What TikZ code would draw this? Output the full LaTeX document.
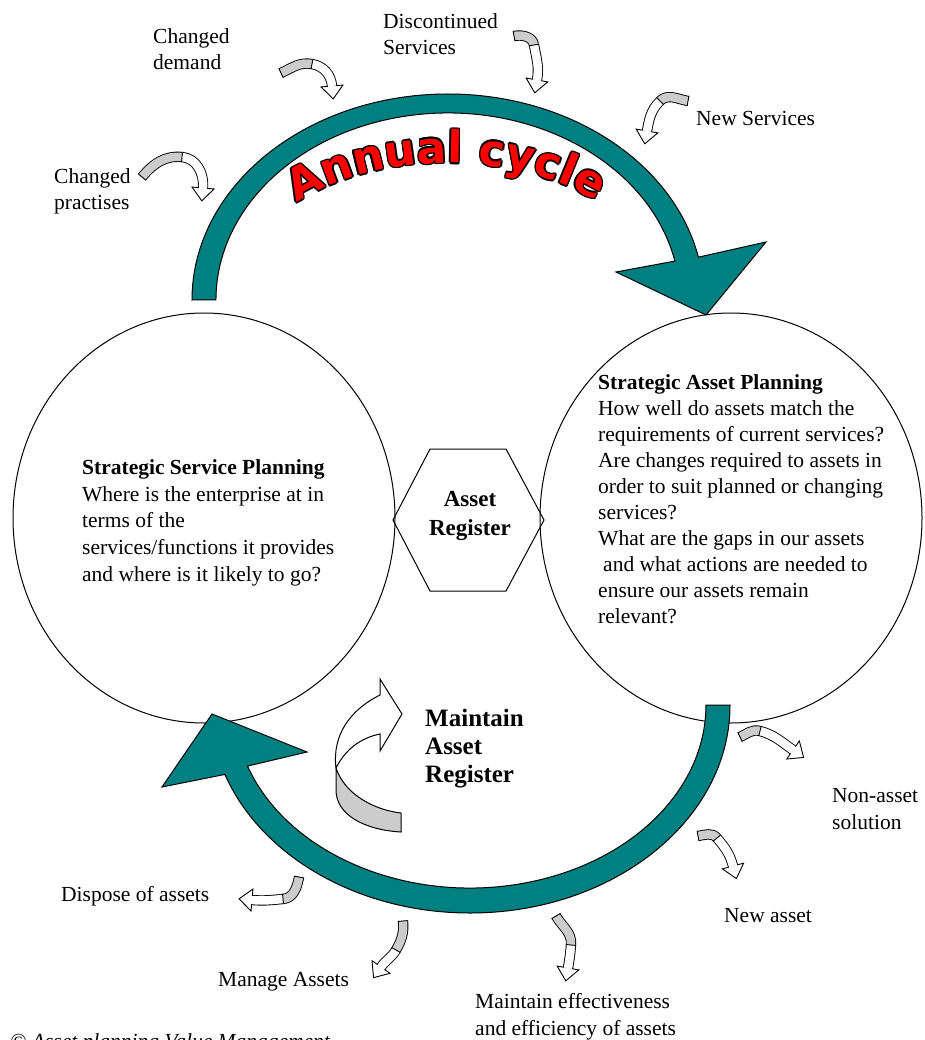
\documentclass[tikz,border=0pt]{standalone}
\usepackage{fontspec}
\setmainfont{Liberation Serif}
\newfontfamily\annfont{DejaVu Sans}
\usetikzlibrary{calc,decorations.text,shapes.geometric}
\definecolor{bandteal}{RGB}{0,128,128}
\definecolor{ribgray}{RGB}{204,204,204}
\definecolor{anred}{RGB}{255,0,0}
\tikzset{
  rib/.style={line width=0.9pt, double distance=8.5pt},
  band/.style={fill=bandteal, draw=black, line width=1pt, line join=miter},
  bubble/.style={ellipse, draw, line width=1pt, fill=white, minimum width=382pt, minimum height=410pt, inner sep=0pt},
  lbl/.style={anchor=base west, align=left, inner sep=0pt},
}
\newcommand\ribarrow[6]{%
  \pgfmathsetmacro\ribin{#4+180}%
  \pgfmathsetmacro\ribend{#6+180}%
  \draw[rib, double=ribgray] (#1) to[out=#2, in=\ribin] (#3);
  \draw[rib, double=white] (#3) to[out=#4, in=\ribend] (#5);
  \draw[line width=0.9pt] ($(#1)+(#2+90:5.2pt)$) -- ($(#1)+(#2-90:5.2pt)$);
  \draw[line width=0.9pt] ($(#3)+(#4+90:5.2pt)$) -- ($(#3)+(#4-90:5.2pt)$);
  \draw[line width=0.9pt, fill=white, line join=miter] ($(#5)+(#6+90:4.25pt)$) -- ($(#5)+(#6+90:11pt)$) -- ($(#5)+(#6:13pt)$) -- ($(#5)+(#6-90:11pt)$) -- ($(#5)+(#6-90:4.25pt)$);
}
\newcommand\annstyle{\annfont\bfseries\fontsize{44}{44}\selectfont}
\begin{document}
\begin{tikzpicture}[x=1pt,y=1pt,font=\fontsize{21.5}{26.6}\selectfont]
\useasboundingbox (0,0) rectangle (924,-1040);

% planning circles
\node[bubble] (lcirc) at (204,-518) {};
\node[bubble] (rcirc) at (731,-518) {};

% asset register hexagon
\draw[line width=1pt] (393,-520) -- (430,-449) -- (506,-449) -- (544,-520) -- (506,-591) -- (430,-591) -- cycle;
\node[font=\fontsize{23}{28.5}\selectfont\bfseries, align=center] (areg) at (470,-516) {Asset\\Register};

% circle texts (anchor = baseline of last line)
\node[lbl] (sstext) at (82,-581) {\textbf{Strategic Service Planning}\\Where is the enterprise at in\\terms of the\\services/functions it provides\\and where is it likely to go?};
\node[lbl, font=\fontsize{21.5}{26}\selectfont] (satext) at (598,-623) {\textbf{Strategic Asset Planning}\\How well do assets match the\\requirements of current services?\\Are changes required to assets in\\order to suit planned or changing\\services?\\What are the gaps in our assets\\\hspace*{5pt}and what actions are needed to\\ensure our assets remain\\relevant?};

% annual cycle band (top)
\path[band] (192,-300) arc[start angle=180, end angle=12, x radius=256pt, y radius=206pt]
  -- (766,-242) -- (706,-315) -- (616,-272)
  -- (674.9,-261.1) arc[start angle=12, end angle=180, x radius=232pt, y radius=187pt] -- cycle;

% bottom band
\path[band] (730,-705) arc[start angle=0, end angle=-160.5, x radius=260pt, y radius=208pt]
  -- (162,-787) -- (212,-714) -- (307,-752)
  -- (247.5,-766.1) arc[start angle=-160.5, end angle=0, x radius=236pt, y radius=183pt] -- cycle;

% Annual cycle lettering
\foreach \dx/\dy in {1.5/0,-1.5/0,0/1.5,0/-1.5,1.1/1.1,1.1/-1.1,-1.1/1.1,-1.1/-1.1}{
  \path[shift={(\dx,\dy)}, decorate, decoration={text along path, text={|\annstyle|Annual cycle}, text align=center, text color=black}]
    (291.5,-206.6) arc[start angle=137, end angle=44, x radius=214pt, y radius=137pt];
}
\path[decorate, decoration={text along path, text={|\annstyle|Annual cycle}, text align=center, text color=anred}]
    (291.5,-206.6) arc[start angle=137, end angle=44, x radius=214pt, y radius=137pt];

% maintain asset register arrow
\filldraw[fill=ribgray, line width=1pt] (336,-768) .. controls (345,-795) and (375,-810) .. (401,-813) -- (401,-832) .. controls (365,-830) and (336,-815) .. (336,-790) -- cycle;
\filldraw[fill=white, line width=1pt, line join=miter] (336,-768) .. controls (332,-735) and (350,-710) .. (380,-695) -- (380,-679) -- (402,-714) -- (380,-751) -- (380,-734) .. controls (360,-738) and (345,-750) .. (336,-768) -- cycle;
\node[lbl, font=\fontsize{25}{28}\selectfont\bfseries] (mar) at (425,-782) {Maintain\\Asset\\Register};

% small curved arrows
\ribarrow{142,-177}{50}{182,-157}{-5}{203,-188}{-95}
\ribarrow{281,-73}{25}{312,-64}{-10}{332,-86}{-85}
\ribarrow{514,-36}{10}{534,-45}{-80}{537,-80}{-100}
\ribarrow{688,-101}{170}{660,-101}{-135}{647,-131}{-100}
\ribarrow{740,-737}{25}{760,-731}{-15}{793,-750}{-35}
\ribarrow{698,-836}{10}{717,-838}{-50}{733,-866}{-75}
\ribarrow{556,-916}{-60}{571,-945}{-95}{568,-968}{-100}
\ribarrow{403,-921}{-85}{396,-950}{-120}{381,-967}{-125}
\ribarrow{299,-877}{-100}{283,-899}{185}{252,-900}{175}

% labels (multi-line: anchor at last baseline)
\node[lbl] (cdem) at (153,-70) {Changed\\demand};
\node[lbl] (disc) at (383,-55) {Discontinued\\Services};
\node[lbl] (news) at (696,-126) {New Services};
\node[lbl] (cprac) at (54,-210) {Changed\\practises};
\node[lbl] (nonasset) at (832,-829) {Non-asset\\solution};
\node[lbl] (newasset) at (724,-922) {New asset};
\node[lbl] (dispose) at (61,-901) {Dispose of assets};
\node[lbl] (manage) at (218,-986) {Manage Assets};
\node[lbl] (effic) at (475,-1035) {Maintain effectiveness\\and efficiency of assets};
\node[lbl, font=\fontsize{21.5}{26}\selectfont\itshape] (copy) at (10,-1048) {© Asset planning Value Management};
\end{tikzpicture}
\end{document}
